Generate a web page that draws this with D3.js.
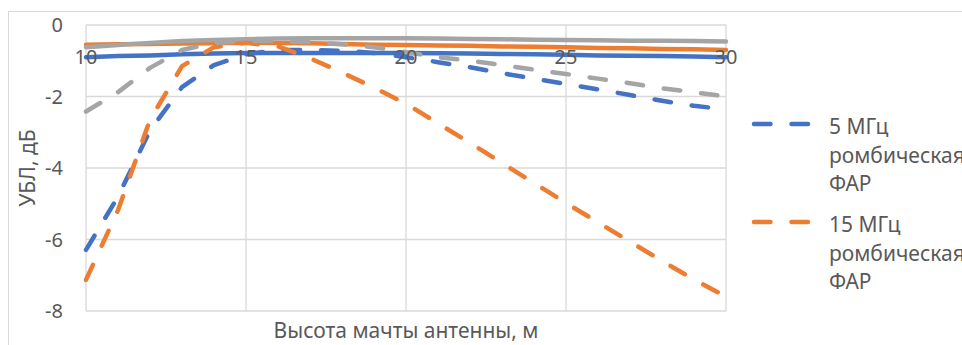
<!DOCTYPE html>
<html>
<head>
<meta charset="utf-8">
<script src="https://cdn.jsdelivr.net/npm/d3@7"></script>
<style>
  html, body { margin: 0; padding: 0; background: #fff; }
  svg { display: block; }
  text { font-family: "Noto Sans", "DejaVu Sans", sans-serif; fill: #595959; }
</style>
</head>
<body>
<svg id="chart" width="962" height="345"></svg>
<script>
// Mast height, m
const heights = [10, 11, 12, 13, 14, 15, 16, 17, 18, 19, 20, 21, 22, 23, 24, 25, 26, 27, 28, 29, 30];

// Side-lobe level, dB — solid curves
const blueSolid   = [-0.90, -0.87, -0.85, -0.82, -0.80, -0.78, -0.78, -0.78, -0.78, -0.78, -0.78, -0.79, -0.80, -0.81, -0.82, -0.83, -0.85, -0.86, -0.87, -0.88, -0.90];
const orangeSolid = [-0.55, -0.54, -0.53, -0.52, -0.51, -0.50, -0.50, -0.51, -0.53, -0.55, -0.56, -0.57, -0.58, -0.60, -0.61, -0.62, -0.64, -0.65, -0.67, -0.68, -0.70];
const graySolid   = [-0.62, -0.56, -0.50, -0.45, -0.42, -0.40, -0.38, -0.37, -0.37, -0.37, -0.37, -0.38, -0.39, -0.40, -0.41, -0.42, -0.43, -0.44, -0.44, -0.45, -0.46];

// Side-lobe level, dB — dashed curves (rhombic arrays)
const blueDashed   = [-6.29, -4.80, -2.95, -1.74, -1.12, -0.82, -0.70, -0.70, -0.72, -0.78, -0.90, -1.04, -1.18, -1.35, -1.50, -1.65, -1.80, -1.96, -2.12, -2.26, -2.36];
const orangeDashed = [-7.13, -5.18, -2.65, -1.15, -0.62, -0.50, -0.60, -0.93, -1.33, -1.75, -2.20, -2.75, -3.30, -3.86, -4.42, -4.98, -5.52, -6.06, -6.60, -7.12, -7.60];
const grayDashed   = [-2.42, -1.88, -1.20, -0.70, -0.50, -0.45, -0.45, -0.48, -0.54, -0.62, -0.76, -0.90, -1.00, -1.12, -1.25, -1.37, -1.50, -1.63, -1.77, -1.88, -2.00];

const xTicks = [10, 15, 20, 25, 30];
const yTicks = [0, -2, -4, -6, -8];

const legendLabels = [
  ["5 МГц", "ромбическая", "ФАР"],
  ["15 МГц", "ромбическая", "ФАР"]
];

const xTitle = "Высота мачты антенны, м";
const yTitle = "УБЛ, дБ";

const BLUE = "#4472C4", ORANGE = "#ED7D31", GRAY = "#A5A5A5";

const series = [
  { values: blueSolid,    color: BLUE,   dashed: false },
  { values: orangeSolid,  color: ORANGE, dashed: false },
  { values: graySolid,    color: GRAY,   dashed: false },
  { values: blueDashed,   color: BLUE,   dashed: true },
  { values: orangeDashed, color: ORANGE, dashed: true },
  { values: grayDashed,   color: GRAY,   dashed: true }
];

const svg = d3.select("#chart");
const plot = { left: 86, right: 726, top: 25, bottom: 311 };

const x = d3.scaleLinear().domain([10, 30]).range([plot.left, plot.right]);
const y = d3.scaleLinear().domain([0, -8]).range([plot.top, plot.bottom]);

// chart frame (extends past the visible area on the right and bottom)
svg.append("rect")
  .attr("x", 8.5).attr("y", 11.5)
  .attr("width", 1100).attr("height", 500)
  .attr("fill", "none").attr("stroke", "#D9D9D9").attr("stroke-width", 1);

// gridlines
const grid = svg.append("g").attr("stroke", "#D9D9D9").attr("stroke-width", 1.3);
grid.selectAll("line.h").data(yTicks).join("line")
  .attr("x1", plot.left).attr("x2", plot.right)
  .attr("y1", d => y(d)).attr("y2", d => y(d));
grid.selectAll("line.v").data(xTicks).join("line")
  .attr("y1", plot.top).attr("y2", plot.bottom)
  .attr("x1", d => x(d)).attr("x2", d => x(d));

// y tick labels
svg.append("g").selectAll("text").data(yTicks).join("text")
  .attr("x", 63).attr("y", d => y(d))
  .attr("dy", "0.35em")
  .attr("text-anchor", "end")
  .style("font-size", "20px")
  .text(d => d);

// data lines
const line = d3.line()
  .x((d, i) => x(heights[i]))
  .y(d => y(d));

svg.append("g").selectAll("path").data(series).join("path")
  .attr("d", s => line(s.values))
  .attr("fill", "none")
  .attr("stroke", s => s.color)
  .attr("stroke-width", 4.5)
  .attr("stroke-linejoin", "round")
  .attr("stroke-linecap", "round")
  .attr("stroke-dasharray", s => s.dashed ? "16.5,21" : null);

// x tick labels (drawn over the lines, near the top)
svg.append("g").selectAll("text").data(xTicks).join("text")
  .attr("x", d => x(d)).attr("y", 57)
  .attr("dy", "0.35em")
  .attr("text-anchor", "middle")
  .style("font-size", "20px")
  .text(d => d);

// axis titles
svg.append("text")
  .attr("x", (plot.left + plot.right) / 2).attr("y", 338)
  .attr("text-anchor", "middle")
  .style("font-size", "21px")
  .text(xTitle);

svg.append("text")
  .attr("transform", `translate(35,${(plot.top + plot.bottom) / 2}) rotate(-90)`)
  .attr("text-anchor", "middle")
  .style("font-size", "21px")
  .text(yTitle);

// legend
const legendItems = [
  { color: BLUE,   lines: legendLabels[0], y: 124 },
  { color: ORANGE, lines: legendLabels[1], y: 222 }
];
const lg = svg.append("g");
legendItems.forEach(item => {
  lg.append("line")
    .attr("x1", 754).attr("x2", 810)
    .attr("y1", item.y).attr("y2", item.y)
    .attr("stroke", item.color).attr("stroke-width", 4.5)
    .attr("stroke-linecap", "round")
    .attr("stroke-dasharray", "16.5,21");
  const t = lg.append("text")
    .attr("x", 829).attr("y", item.y + 10)
    .style("font-size", "21px");
  item.lines.forEach((s, i) => {
    t.append("tspan").attr("x", 829).attr("dy", i === 0 ? 0 : 28.5).text(s);
  });
});
</script>
</body>
</html>
